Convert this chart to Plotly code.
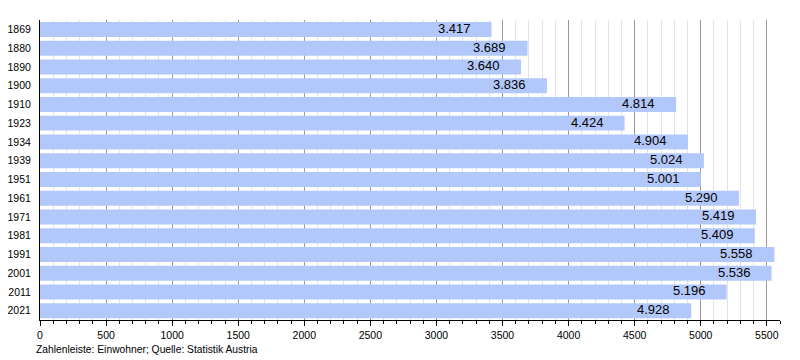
import plotly.graph_objects as go

years = ["1869", "1880", "1890", "1900", "1910", "1923", "1934", "1939", "1951",
         "1961", "1971", "1981", "1991", "2001", "2011", "2021"]
population = [3417, 3689, 3640, 3836, 4814, 4424, 4904, 5024, 5001,
              5290, 5419, 5409, 5558, 5536, 5196, 4928]
x_ticks = [0, 500, 1000, 1500, 2000, 2500, 3000, 3500, 4000, 4500, 5000, 5500]
footnote = "Zahlenleiste: Einwohner; Quelle: Statistik Austria"

labels = [f"{v:,}".replace(",", ".") for v in population]

FONT = "Liberation Sans, Arial, sans-serif"

fig = go.Figure(go.Bar(
    x=population, y=years, orientation="h",
    marker=dict(color="#b3c8fa", line=dict(width=0)),
    hoverinfo="x+y",
))

# value labels: positioned at each bar's end (category index on the y axis)
annotations = [dict(
    x=v, y=i, xref="x", yref="y", text=t, showarrow=False,
    xanchor="right", yanchor="middle", xshift=-19, yshift=1,
    font=dict(family=FONT, size=13, color="#000000"),
) for i, (v, t) in enumerate(zip(population, labels))]

# page has an 8px body margin; compensate so the plot area sits at 40..780 x 20..320
annotations.append(dict(
    text=footnote, x=(26 - 32) / 740, y=(312 - 341) / 300,
    xref="paper", yref="paper",
    xanchor="left", yanchor="middle", showarrow=False,
    font=dict(family=FONT, size=10.3, color="#000000"),
))

fig.update_layout(
    width=800, height=360,
    margin=dict(l=32, r=28, t=12, b=48, autoexpand=False),
    paper_bgcolor="white", plot_bgcolor="white",
    bargap=0.2,
    showlegend=False,
    font=dict(family=FONT, size=11, color="#000000"),
    xaxis=dict(
        range=[0, 5600], tickvals=x_ticks, ticktext=[str(t) for t in x_ticks],
        showgrid=True, gridcolor="#999999", gridwidth=1,
        showline=True, linecolor="#000000", linewidth=1,
        ticks="outside", ticklen=5, tickcolor="#000000",
        tickfont=dict(size=10.5), automargin=False,
        minor=dict(dtick=100, tick0=0, showgrid=True, gridcolor="#e2e2e2",
                   ticks="outside", ticklen=3, tickcolor="#000000"),
        zeroline=False, fixedrange=True,
    ),
    yaxis=dict(
        type="category", categoryorder="array", categoryarray=years,
        range=[len(years) - 0.5, -0.5], autorange=False,
        showline=True, linecolor="#000000", linewidth=1,
        ticks="", tickfont=dict(size=10.5), ticklabelstandoff=6,
        showgrid=False, fixedrange=True, automargin=False,
    ),
    annotations=annotations,
)

fig.write_html("out.html")
